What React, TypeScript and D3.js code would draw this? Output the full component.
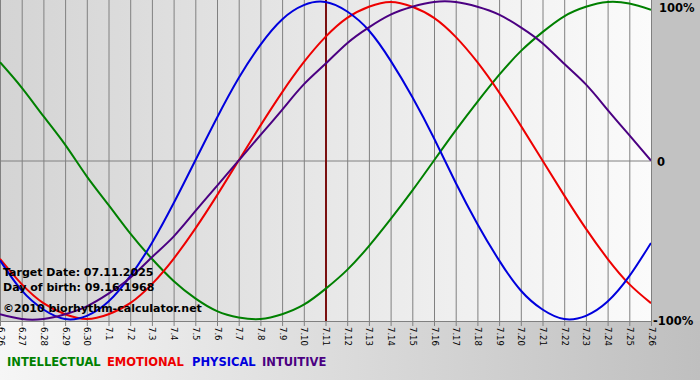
import React from "react";
import * as d3 from "d3";

const dates = ["6.26","6.27","6.28","6.29","6.30","7.1","7.2","7.3","7.4","7.5","7.6","7.7","7.8","7.9","7.10","7.11","7.12","7.13","7.14","7.15","7.16","7.17","7.18","7.19","7.20","7.21","7.22","7.23","7.24","7.25","7.26"];
const intellectual = [62,46,28,10,-10,-28,-46,-62,-76,-87,-95,-99,-100,-97,-91,-81,-69,-54,-37,-19,0,19,37,54,69,81,91,97,100,99,95];
const emotional = [-62,-78,-90,-97,-100,-97,-90,-78,-62,-43,-22,0,22,43,62,78,90,97,100,97,90,78,62,43,22,0,-22,-43,-62,-78,-90];
const physical = [-63,-82,-94,-100,-98,-89,-73,-52,-27,0,27,52,73,89,98,100,94,82,63,40,14,-14,-40,-63,-82,-94,-100,-98,-89,-73,-52];
const intuitive = [-97,-100,-100,-97,-92,-84,-74,-61,-48,-32,-16,0,16,32,48,61,74,84,92,97,100,100,97,92,84,74,61,48,32,16,0];
const targetIndex = 15;
const yTicks = [{ v: 100, t: "100%" }, { v: 0, t: "0" }, { v: -100, t: "-100%" }];
const infoLines = ["Target Date: 07.11.2025", "Day of birth: 09.16.1968", "©2010 biorhythm-calculator.net"];
const legend = [
  { name: "INTELLECTUAL", color: "#008000" },
  { name: "EMOTIONAL", color: "#ee0000" },
  { name: "PHYSICAL", color: "#0000dd" },
  { name: "INTUITIVE", color: "#4b0082" },
];
const series = [
  { data: intellectual, color: "#008000" },
  { data: emotional, color: "#ee0000" },
  { data: physical, color: "#0000dd" },
  { data: intuitive, color: "#4b0082" },
];

const W = 700, H = 380;
const plotL = 0, plotR = 651, plotT = 0, plotB = 321;

export default function App() {
  const x = d3.scaleLinear().domain([0, dates.length - 1]).range([plotL, plotR]);
  const y = d3.scaleLinear().domain([-100, 100]).range([319, 2]);
  const line = d3.line<number>().x((_, i) => x(i)).y((d) => y(d)).curve(d3.curveNatural);
  const font = "'DejaVu Sans', Verdana, sans-serif";
  const legendX = [7, 107, 192, 262];
  const infoY = [276, 291, 312];
  return (
    <svg width={W} height={H} style={{ position: "absolute", left: 0, top: 0, display: "block" }}>
      <defs>
        <linearGradient id="plotBg" x1="0" x2="1" y1="0" y2="0">
          <stop offset="0" stopColor="#d4d4d4" />
          <stop offset="1" stopColor="#fbfbfb" />
        </linearGradient>
        <linearGradient id="bottomBg" x1="0" x2="1" y1="0" y2="0">
          <stop offset="0" stopColor="#f6f6f6" />
          <stop offset="1" stopColor="#bfbfbf" />
        </linearGradient>
        <clipPath id="plotClip">
          <rect x={plotL} y={plotT} width={plotR - plotL} height={plotB - plotT} />
        </clipPath>
      </defs>
      <rect x={0} y={0} width={W} height={H} fill="#c2c2c2" />
      <rect x={0} y={plotB} width={W} height={H - plotB} fill="url(#bottomBg)" />
      <rect x={plotL} y={plotT} width={plotR - plotL} height={plotB - plotT} fill="url(#plotBg)" />
      {dates.map((d, i) => (
        <line key={"g" + i} x1={x(i) + 0.5} x2={x(i) + 0.5} y1={plotT} y2={plotB + 5} stroke="#808080" strokeWidth={1} />
      ))}
      <line x1={plotL} x2={plotR} y1={y(0) + 0.5} y2={y(0) + 0.5} stroke="#808080" strokeWidth={1} />
      <line x1={plotL} x2={plotR} y1={plotB + 0.5} y2={plotB + 0.5} stroke="#808080" strokeWidth={1} />
      <line x1={x(targetIndex) + 0.5} x2={x(targetIndex) + 0.5} y1={plotT} y2={plotB} stroke="#7a1010" strokeWidth={2} />
      <g clipPath="url(#plotClip)">
        {series.map((s, i) => (
          <path key={"s" + i} d={line(s.data) || ""} fill="none" stroke={s.color} strokeWidth={2} />
        ))}
      </g>
      {dates.map((d, i) => (
        <text key={"t" + i} transform={`translate(${x(i) + 0.5},${plotB + 6}) rotate(90)`} dy="0.35em" fontFamily={font} fontSize={8.5} fill="#000">
          {d}
        </text>
      ))}
      {yTicks.map((t, i) => (
        <text key={"y" + i} x={t.v === 0 ? plotR + 6 : t.v > 0 ? plotR + 8 : plotR + 2} y={y(t.v) + (t.v > 0 ? 6 : t.v < 0 ? 2 : 1)} dy="0.35em" fontFamily={font} fontSize={11.5} fontWeight="bold" fill="#000">
          {t.t}
        </text>
      ))}
      {infoLines.map((t, i) => (
        <text key={"i" + i} x={3} y={infoY[i]} fontFamily={font} fontSize={11} fontWeight="bold" fill="#000">
          {t}
        </text>
      ))}
      {legend.map((l, i) => (
        <text key={"l" + i} x={legendX[i]} y={366} fontFamily={font} fontSize={11.5} fontWeight="bold" fill={l.color}>
          {l.name}
        </text>
      ))}
    </svg>
  );
}
